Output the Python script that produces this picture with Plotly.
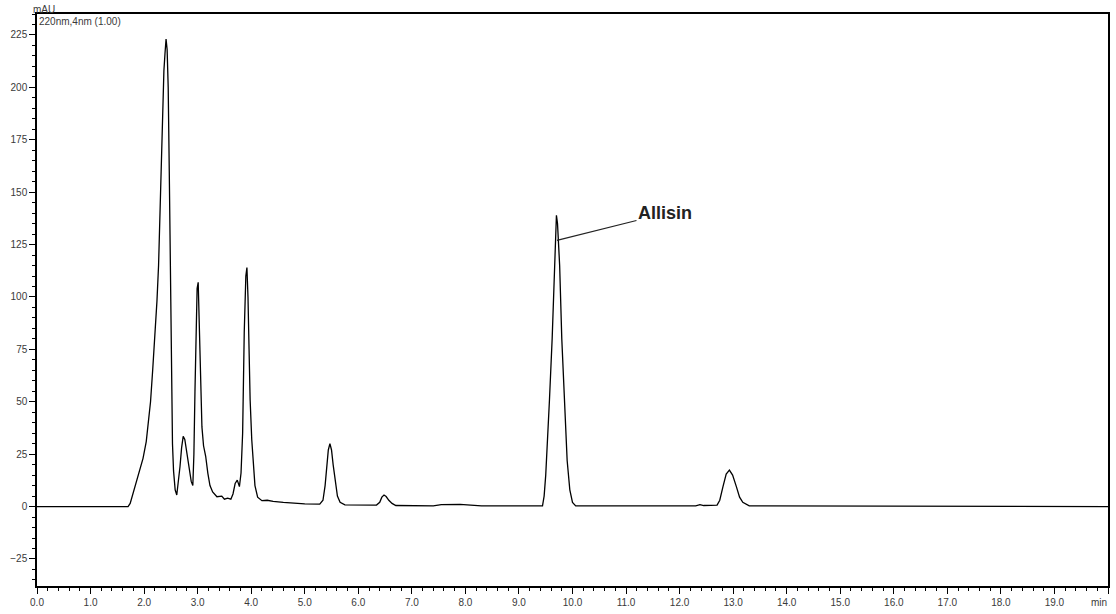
import plotly.graph_objects as go

# Chromatogram (retention time in min, absorbance in mAU)
time_min = [
    0.00, 1.70, 1.74, 1.80, 1.86, 1.92, 1.98, 2.04, 2.08, 2.12, 2.16, 2.20, 2.24, 2.27,
    2.30, 2.33, 2.35, 2.37, 2.39, 2.41, 2.43, 2.45, 2.47, 2.49, 2.51, 2.53, 2.55, 2.58,
    2.61, 2.64, 2.67, 2.70, 2.73, 2.76, 2.80, 2.84, 2.88, 2.91, 2.93, 2.95, 2.97, 2.99,
    3.01, 3.03, 3.05, 3.08, 3.11, 3.15, 3.19, 3.23, 3.28, 3.36, 3.45, 3.50, 3.56, 3.62,
    3.66, 3.70, 3.74, 3.78, 3.81, 3.84, 3.87, 3.90, 3.92, 3.94, 3.96, 3.98, 4.01, 4.04,
    4.07, 4.12, 4.20, 4.30, 4.41, 4.60, 4.79, 5.00, 5.28, 5.34, 5.38, 5.41, 5.44, 5.47,
    5.50, 5.53, 5.57, 5.61, 5.66, 5.75, 6.34, 6.40, 6.44, 6.48, 6.52, 6.57, 6.63, 6.70,
    7.40, 7.55, 7.90, 8.15, 8.30, 9.44, 9.47, 9.50, 9.53, 9.57, 9.62, 9.66, 9.68, 9.70,
    9.72, 9.74, 9.76, 9.80, 9.85, 9.90, 9.95, 10.00, 10.06, 12.30, 12.38, 12.45, 12.70,
    12.75, 12.81, 12.87, 12.93, 12.99, 13.06, 13.12, 13.18, 13.30, 20.00,
]
absorbance_mau = [
    0, 0, 1.5, 7, 13, 18, 23, 31, 40, 50, 65, 80, 98, 115,
    145, 168, 195, 208, 216, 223, 218, 200, 160, 108, 60, 30, 17, 8,
    5.5, 11, 19, 28, 33.5, 32, 26, 18, 12, 10, 25, 55, 90, 104,
    107, 85, 58, 38, 29, 24, 16, 10, 7, 4.7, 5, 3.5, 4, 3.5,
    6, 11, 12.6, 9.5, 16, 35, 83, 110, 114, 100, 75, 51, 32, 20,
    10, 4.5, 2.8, 3, 2.5, 2, 1.6, 1.3, 1.2, 3, 10, 19, 27, 30,
    27, 20, 11, 5, 2, 0.8, 0.7, 2, 4.5, 5.5, 4.8, 3, 1.5, 0.5,
    0.3, 0.9, 1, 0.7, 0.3, 0.3, 5, 15, 29, 51, 80, 110, 125, 139,
    135, 127, 115, 80, 48, 22, 8, 2, 0.3, 0.3, 0.9, 0.5, 0.7,
    3, 9.5, 15.5, 17.4, 15, 9.5, 4.5, 2, 0.3, 0,
]

x_tick_vals = list(range(0, 21))
x_tick_text = [f"{v:.1f}" for v in range(0, 20)] + [""]
x_unit = "min"
y_tick_vals = [-25, 0, 25, 50, 75, 100, 125, 150, 175, 200, 225]
y_unit = "mAU"
channel_label = "220nm,4nm (1.00)"

peak_label = "Allisin"
peak_time = 9.71
peak_value = 127

tick_font = dict(family="Liberation Sans, Arial, sans-serif", size=10, color="#3a3a3a")

fig = go.Figure()
fig.add_trace(go.Scatter(
    x=time_min, y=absorbance_mau, mode="lines",
    line=dict(color="black", width=1.3), showlegend=False, hoverinfo="skip",
))

fig.update_xaxes(
    range=[0, 20], tickvals=x_tick_vals, ticktext=x_tick_text,
    ticks="outside", ticklen=6, tickwidth=1, tickcolor="black",
    minor=dict(dtick=0.2, ticks="outside", ticklen=3, tickwidth=1, tickcolor="black"),
    showgrid=False, zeroline=False, automargin=False,
    showline=True, mirror=True, linecolor="black", linewidth=1.5,
    tickfont=tick_font,
)
fig.update_yaxes(
    range=[-37.9, 235], tickvals=y_tick_vals,
    ticks="outside", ticklen=6, tickwidth=1, tickcolor="black",
    minor=dict(dtick=5, ticks="outside", ticklen=3, tickwidth=1, tickcolor="black"),
    showgrid=False, zeroline=False, automargin=False,
    showline=True, mirror=True, linecolor="black", linewidth=1.5,
    tickfont=tick_font,
)

fig.add_annotation(
    x=peak_time, y=peak_value, text=f"<b>{peak_label}</b>",
    showarrow=True, arrowhead=0, arrowwidth=1.2, arrowcolor="#222",
    ax=108, ay=-27, standoff=0,
    font=dict(family="Liberation Sans, Arial, sans-serif", size=18, color="#222"),
)
fig.add_annotation(
    xref="paper", yref="paper", x=-0.006, y=1.0, yshift=-3,
    text=y_unit, showarrow=False, xanchor="left", yanchor="bottom",
    font=tick_font,
)
fig.add_annotation(
    xref="paper", yref="paper", x=0.0, y=1.0,
    text=channel_label, showarrow=False, xanchor="left", yanchor="top",
    font=tick_font,
)
fig.add_annotation(
    xref="paper", yref="paper", x=1.0, y=0.0, yshift=-9, xshift=1,
    text=x_unit, showarrow=False, xanchor="right", yanchor="top",
    font=tick_font,
)

fig.update_layout(
    width=1116, height=614,
    margin=dict(l=37, r=8, t=14, b=28),
    plot_bgcolor="white", paper_bgcolor="white",
)

fig.write_html(
    "out.html",
    config={"displayModeBar": False},
    post_script="document.body.style.margin='0';document.body.style.overflow='hidden';",
)
